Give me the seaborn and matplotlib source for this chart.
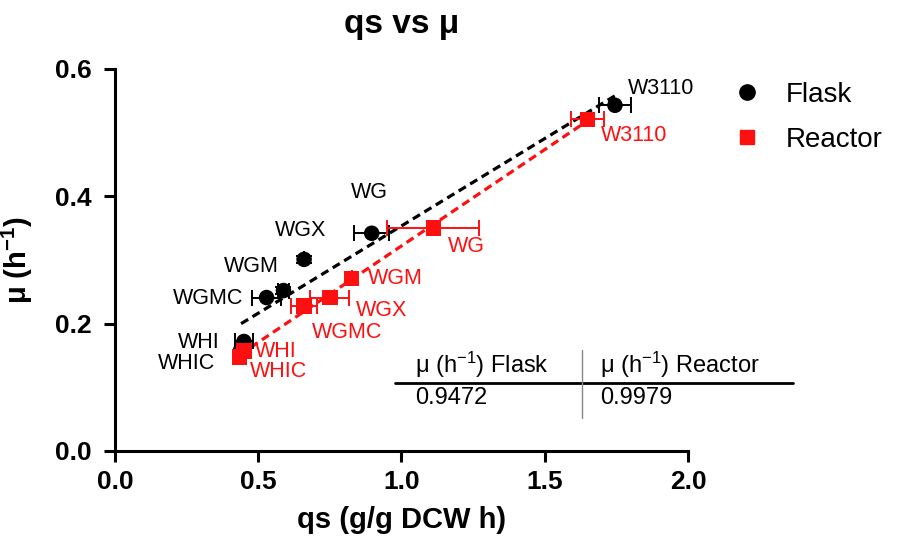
import numpy as np
import pandas as pd
import matplotlib
matplotlib.use("Agg")
import matplotlib.pyplot as plt
import seaborn as sns
from matplotlib.lines import Line2D

# ---------------- data ----------------
strains = ["W3110", "WG", "WGX", "WGM", "WGMC", "WHI", "WHIC"]
flask_qs = [1.745, 0.896, 0.660, 0.588, 0.529, 0.450, 0.440]
flask_mu = [0.543, 0.342, 0.301, 0.252, 0.241, 0.172, 0.160]
flask_qs_err = [0.055, 0.062, 0.0, 0.02, 0.05, 0.03, 0.0]
flask_mu_err = [0.0, 0.0, 0.006, 0.005, 0.0, 0.0, 0.0]
reactor_qs = [1.649, 1.111, 0.750, 0.826, 0.660, 0.450, 0.435]
reactor_mu = [0.521, 0.350, 0.241, 0.271, 0.228, 0.157, 0.148]
reactor_qs_err = [0.058, 0.160, 0.068, 0.0, 0.044, 0.0, 0.0]
r2_flask = "0.9472"
r2_reactor = "0.9979"
x_ticks = [0.0, 0.5, 1.0, 1.5, 2.0]
y_ticks = [0.0, 0.2, 0.4, 0.6]

# label offsets (points) and alignment -- layout only
flask_off = [(9.4, 12.2, "left"), (-1.4, 29.5, "center"), (-2.5, 20.9, "center"),
             (-3.6, 17.3, "right"), (-16.6, -0.7, "right"), (-17.3, -0.9, "right"),
             (-18.7, -10.0, "right")]
reactor_off = [(10.0, -11.5, "left"), (10.8, -13.0, "left"), (18.7, -9.4, "left"),
               (11.5, 0.0, "left"), (5.8, -19.4, "left"), (7.9, -0.5, "left"),
               (7.5, -10.7, "left")]

df = pd.DataFrame({
    "qs": flask_qs + reactor_qs,
    "mu": flask_mu + reactor_mu,
    "cond": ["Flask"] * len(flask_qs) + ["Reactor"] * len(reactor_qs),
})

sns.set_style("ticks")
plt.rcParams["font.family"] = ["Liberation Sans", "DejaVu Sans"]
plt.rcParams["mathtext.fontset"] = "custom"
plt.rcParams["mathtext.rm"] = "Liberation Sans"
plt.rcParams["mathtext.it"] = "Liberation Sans:italic"
plt.rcParams["mathtext.bf"] = "Liberation Sans:bold"
for k in ("text.color", "axes.labelcolor", "xtick.color", "ytick.color",
          "xtick.labelcolor", "ytick.labelcolor"):
    plt.rcParams[k] = "black"

RED = "#ff1010"
fig = plt.figure(figsize=(8.98, 5.43), dpi=100)
ax = fig.add_axes([115 / 898, 1 - 451 / 543, (688 - 115) / 898, (451 - 69) / 543])

dash = (0, (2.6, 1.6))
sns.regplot(x=flask_qs, y=flask_mu, ax=ax, scatter=False, ci=None, truncate=True,
            line_kws=dict(color="black", lw=2.3, ls=dash, zorder=2))
sns.regplot(x=reactor_qs, y=reactor_mu, ax=ax, scatter=False, ci=None, truncate=True,
            line_kws=dict(color=RED, lw=2.3, ls=dash, zorder=2))

ax.errorbar(flask_qs, flask_mu, xerr=flask_qs_err, yerr=flask_mu_err, fmt="none",
            ecolor="black", elinewidth=1.4, capsize=5.5, capthick=1.4, zorder=3)
ax.errorbar(reactor_qs, reactor_mu, xerr=reactor_qs_err, fmt="none",
            ecolor=RED, elinewidth=1.4, capsize=5.5, capthick=1.4, zorder=3)

sns.scatterplot(data=df, x="qs", y="mu", hue="cond", style="cond",
                markers={"Flask": "o", "Reactor": "s"},
                palette={"Flask": "black", "Reactor": RED},
                s=125, edgecolor="none", linewidth=0, legend=False, ax=ax, zorder=4)

for i, name in enumerate(strains):
    dx, dy, ha = flask_off[i]
    ax.annotate(name, (flask_qs[i], flask_mu[i]), xytext=(dx, dy),
                textcoords="offset points", ha=ha, va="center",
                fontsize=15.5, color="black", zorder=5)
    dx, dy, ha = reactor_off[i]
    ax.annotate(name, (reactor_qs[i], reactor_mu[i]), xytext=(dx, dy),
                textcoords="offset points", ha=ha, va="center",
                fontsize=15.5, color=RED, zorder=5)

ax.set_xlim(0, 2.0)
ax.set_ylim(0, 0.6)
ax.set_xticks(x_ticks)
ax.set_yticks(y_ticks)
ax.set_xticklabels([f"{t:.1f}" for t in x_ticks], fontsize=19, fontweight="bold")
ax.set_yticklabels([f"{t:.1f}" for t in y_ticks], fontsize=19, fontweight="bold")
ax.tick_params(direction="out", length=8, width=2.2, color="black")
ax.tick_params(axis="x", pad=6)
ax.tick_params(axis="y", pad=9)
for side in ("top", "right"):
    ax.spines[side].set_visible(False)
for side in ("left", "bottom"):
    ax.spines[side].set_linewidth(2.2)
    ax.spines[side].set_color("black")

ax.set_xlabel("qs (g/g DCW h)", fontsize=21, fontweight="bold", labelpad=8)
ax.set_ylabel(r"μ (h$^{\mathbf{-1}}$)", fontsize=21, fontweight="bold", labelpad=14)
ax.set_title("qs vs μ", fontsize=24, fontweight="bold", pad=26)

handles = [Line2D([], [], marker="o", ls="none", color="black", markersize=11),
           Line2D([], [], marker="s", ls="none", color=RED, markersize=10)]
fig.legend(handles, ["Flask", "Reactor"], loc="upper left",
           bbox_to_anchor=(733 / 898, 1 - 82 / 543), bbox_transform=fig.transFigure,
           frameon=False, fontsize=20, handletextpad=0.9, labelspacing=0.68,
           handlelength=1.0, borderpad=0, borderaxespad=0)

# R^2 table
fig.add_artist(Line2D([395 / 898, 793 / 898], [1 - 383 / 543] * 2, color="black",
                      lw=2.0, transform=fig.transFigure))
fig.add_artist(Line2D([582 / 898] * 2, [1 - 350 / 543, 1 - 418 / 543], color="#888888",
                      lw=1.0, transform=fig.transFigure))
fig.text(415 / 898, 1 - 365 / 543, "μ (h$^{-1}$) Flask", fontsize=17, va="center", ha="left")
fig.text(600 / 898, 1 - 365 / 543, "μ (h$^{-1}$) Reactor", fontsize=17, va="center", ha="left")
fig.text(415 / 898, 1 - 398 / 543, r2_flask, fontsize=17, va="center", ha="left")
fig.text(600 / 898, 1 - 398 / 543, r2_reactor, fontsize=17, va="center", ha="left")

fig.savefig("out.png", dpi=100, facecolor="white")
